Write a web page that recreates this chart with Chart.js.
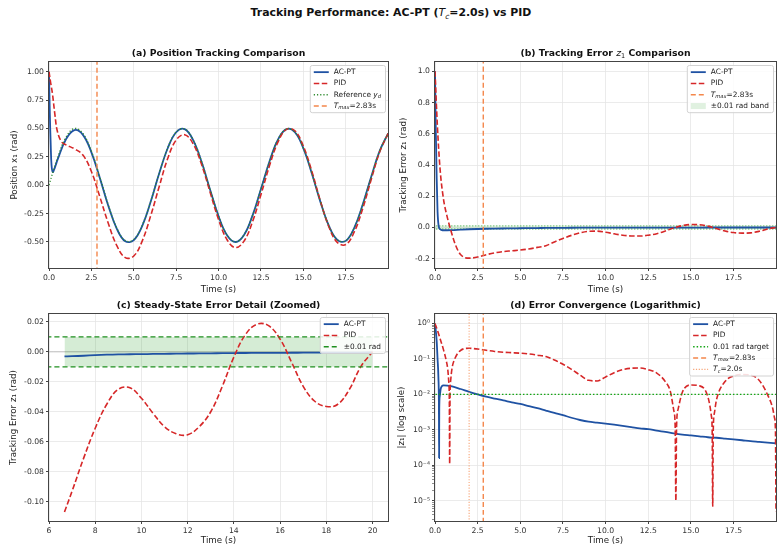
<!DOCTYPE html>
<html>
<head>
<meta charset="utf-8">
<script src="https://cdn.jsdelivr.net/npm/chart.js@4.4.1/dist/chart.umd.min.js"></script>
<style>
  body { margin: 0; background: #fff; width: 782px; height: 551px; position: relative; overflow: hidden; }
  canvas { position: absolute; }
  #sup { position: absolute; left: 0; top: 6px; width: 782px; text-align: center;
         font: bold 10.9px "DejaVu Sans"; color: #111; }
  #sup i { font-weight: normal; }
  #sup sub { font-size: 7.5px; font-weight: normal; font-style: italic; }
</style>
</head>
<body>
<div id="sup">Tracking Performance: AC-PT (<i>T</i><sub>c</sub>=2.0s) vs PID</div>
<canvas id="chartA" width="392" height="256" style="left:0;top:44px"></canvas>
<canvas id="chartB" width="390" height="256" style="left:392px;top:44px"></canvas>
<canvas id="chartC" width="392" height="255" style="left:0;top:296px"></canvas>
<canvas id="chartD" width="390" height="255" style="left:392px;top:296px"></canvas>
<script>
// ---- data ----
const tMax = 2.83;
const tC = 2.0;
const band = 0.01;

const tRef = [0, 0.5, 1, 1.5, 2, 2.5, 3, 3.5, 4, 4.5, 5, 5.5, 6, 6.5, 7, 7.5, 8, 8.5, 9, 9.5, 10,
  10.5, 11, 11.5, 12, 12.5, 13, 13.5, 14, 14.5, 15, 15.5, 16, 16.5, 17, 17.5, 18, 18.5, 19, 19.5, 20];
const yRef = [0.000, 0.240, 0.421, 0.499, 0.455, 0.299, 0.071, -0.175, -0.378, -0.489, -0.479,
  -0.353, -0.140, 0.108, 0.328, 0.469, 0.495, 0.399, 0.206, -0.038, -0.272, -0.440, -0.500,
  -0.438, -0.268, -0.033, 0.210, 0.402, 0.495, 0.467, 0.325, 0.104, -0.144, -0.356, -0.481,
  -0.490, -0.375, -0.171, 0.075, 0.303, 0.456];

const tAc = [0, 0.05, 0.1, 0.15, 0.22, 0.3, 0.4, 0.5, 1, 1.5, 2, 2.5, 3, 3.5, 4, 4.5, 5, 5.5, 6,
  6.5, 7, 7.5, 8, 8.5, 9, 9.5, 10, 10.5, 11, 11.5, 12, 12.5, 13, 13.5, 14, 14.5, 15, 15.5, 16,
  16.5, 17, 17.5, 18, 18.5, 19, 19.5, 20];
const x1Ac = [1.0, 0.625, 0.36, 0.175, 0.115, 0.137, 0.178, 0.222, 0.404, 0.485, 0.443, 0.289,
  0.062, -0.183, -0.385, -0.495, -0.484, -0.358, -0.144, 0.104, 0.325, 0.466, 0.493, 0.397, 0.204,
  -0.040, -0.274, -0.441, -0.501, -0.439, -0.269, -0.034, 0.209, 0.401, 0.494, 0.466, 0.324, 0.103,
  -0.145, -0.357, -0.482, -0.491, -0.376, -0.171, 0.074, 0.302, 0.456];
const z1Ac = [1.0, 0.6, 0.31, 0.1, 0.006, -0.011, -0.017, -0.018, -0.0168, -0.0142, -0.0118,
  -0.0100, -0.0086, -0.0076, -0.0068, -0.0060, -0.0054, -0.0047, -0.0041, -0.0035, -0.0030,
  -0.0026, -0.0022, -0.0019, -0.0017, -0.0016, -0.0015, -0.0014, -0.0013, -0.0012, -0.0011,
  -0.00105, -0.00095, -0.00088, -0.0008, -0.00074, -0.0007, -0.00066, -0.00062, -0.0006,
  -0.00057, -0.00054, -0.00051, -0.00048, -0.00046, -0.00044, -0.00042];

const tPidPos = [0, 0.1, 0.2, 0.35, 0.5, 0.75, 1, 1.5, 2, 2.5, 3, 3.5, 4, 4.5, 5, 5.5, 6, 6.5, 7,
  7.5, 8, 8.5, 9, 9.5, 10, 10.5, 11, 11.5, 12, 12.5, 13, 13.5, 14, 14.5, 15, 15.5, 16, 16.5, 17,
  17.5, 18, 18.5, 19, 19.5, 20];
const x1Pid = [1.0, 0.90, 0.81, 0.62, 0.47, 0.38, 0.355, 0.32, 0.265, 0.12, -0.104, -0.338,
  -0.533, -0.639, -0.624, -0.491, -0.268, -0.012, 0.235, 0.398, 0.444, 0.364, 0.181, -0.062,
  -0.303, -0.481, -0.550, -0.493, -0.323, -0.083, 0.170, 0.379, 0.492, 0.479, 0.343, 0.121,
  -0.138, -0.366, -0.504, -0.523, -0.412, -0.206, 0.050, 0.293, 0.456];

const tPid = [0, 0.14, 0.3, 0.5, 0.7, 0.88, 1.18, 1.47, 2, 2.5, 3, 3.5, 4, 4.5, 5, 5.5, 6, 6.5, 7,
  7.5, 8, 8.5, 9, 9.5, 10, 10.5, 11, 11.5, 12, 12.5, 13, 13.5, 14, 14.5, 15, 15.5, 16, 16.5, 17,
  17.5, 18, 18.5, 19, 19.5, 20];
const z1Pid = [1.0, 0.65, 0.37, 0.18, 0.074, 0.0, -0.106, -0.17, -0.197, -0.19, -0.175, -0.163,
  -0.155, -0.15, -0.145, -0.138, -0.128, -0.117, -0.093, -0.071, -0.051, -0.035, -0.025, -0.024,
  -0.031, -0.041, -0.05, -0.0547, -0.0554, -0.05, -0.04, -0.023, -0.0035, 0.0115, 0.0185, 0.0175,
  0.0085, -0.007, -0.023, -0.033, -0.0365, -0.035, -0.025, -0.0097, 0.0];

const tZoom = [6.67, 7, 7.5, 8, 8.5, 9, 9.5, 10, 10.5, 11, 11.5, 12, 12.5, 13, 13.5, 14, 14.5, 15,
  15.5, 16, 16.5, 17, 17.5, 18, 18.5, 19, 19.5, 20];
const z1AcZoom = [-0.0030, -0.0029, -0.0026, -0.0022, -0.0019, -0.0017, -0.0016, -0.0015, -0.0014,
  -0.0013, -0.0012, -0.0011, -0.00105, -0.00095, -0.00088, -0.0008, -0.00074, -0.0007, -0.00066,
  -0.00062, -0.0006, -0.00057, -0.00054, -0.00051, -0.00048, -0.00046, -0.00044, -0.00042];
const z1PidZoom = [-0.107, -0.093, -0.071, -0.051, -0.035, -0.025, -0.024, -0.031, -0.041, -0.05,
  -0.0547, -0.0554, -0.05, -0.04, -0.023, -0.0035, 0.0115, 0.0185, 0.0175, 0.0085, -0.007, -0.023,
  -0.033, -0.0365, -0.035, -0.025, -0.0097, 0.0];

const tLogAc = [0, 0.05, 0.1, 0.15, 0.2, 0.23, 0.24, 0.25, 0.28, 0.33, 0.4, 0.5, 1, 1.5, 2, 2.5,
  3, 3.5, 4, 4.5, 5, 5.5, 6, 6.5, 7, 7.5, 8, 8.5, 9, 9.5, 10, 10.5, 11, 11.5, 12, 12.5, 13, 13.5,
  14, 14.5, 15, 15.5, 16, 16.5, 17, 17.5, 18, 18.5, 19, 19.5, 20];
const absAc = [1.0, 0.6, 0.31, 0.1, 0.03, 0.004, 0.00016, 0.004, 0.009, 0.014, 0.017, 0.018,
  0.0168, 0.0142, 0.0118, 0.0100, 0.0086, 0.0076, 0.0068, 0.0060, 0.0054, 0.0047, 0.0041, 0.0035,
  0.0030, 0.0026, 0.0022, 0.0019, 0.0017, 0.0016, 0.0015, 0.0014, 0.0013, 0.0012, 0.0011, 0.00105,
  0.00095, 0.00088, 0.0008, 0.00074, 0.0007, 0.00066, 0.00062, 0.0006, 0.00057, 0.00054, 0.00051,
  0.00048, 0.00046, 0.00044, 0.00042];

const tLogPid = [0, 0.14, 0.3, 0.5, 0.67, 0.75, 0.8, 0.84, 0.86, 0.88, 0.92, 1.0, 1.18, 1.47, 2,
  2.5, 3, 3.5, 4, 4.5, 5, 5.5, 6, 6.5, 7, 7.5, 8, 8.5, 9, 9.5, 10, 10.5, 11, 11.5, 12, 12.5, 13,
  13.5, 13.8, 14, 14.08, 14.12, 14.16, 14.25, 14.5, 15, 15.5, 16, 16.2, 16.25, 16.28, 16.31, 16.38,
  16.5, 17, 17.5, 18, 18.5, 19, 19.5, 19.8, 19.9, 19.96, 19.99];
const absPid = [1.0, 0.65, 0.37, 0.18, 0.085, 0.05, 0.025, 0.007, 0.00011, 0.008, 0.025, 0.055,
  0.106, 0.17, 0.2, 0.19, 0.175, 0.163, 0.155, 0.15, 0.145, 0.138, 0.128, 0.117, 0.093, 0.071,
  0.051, 0.035, 0.025, 0.024, 0.031, 0.041, 0.05, 0.0547, 0.0554, 0.05, 0.04, 0.023, 0.012, 0.0035,
  0.0012, 0.00001, 0.0012, 0.0038, 0.0115, 0.0185, 0.0175, 0.0085, 0.0025, 0.0009, 0.000007,
  0.0009, 0.003, 0.007, 0.023, 0.033, 0.0365, 0.035, 0.025, 0.0097, 0.004, 0.0022, 0.0009, 0.000005];

const xTicksTime = [0, 2.5, 5, 7.5, 10, 12.5, 15, 17.5];
const xTicksZoom = [6, 8, 10, 12, 14, 16, 18, 20];
const yTicksPos = [-0.5, -0.25, 0, 0.25, 0.5, 0.75, 1.0];
const yTicksErr = [-0.2, 0, 0.2, 0.4, 0.6, 0.8, 1.0];
const yTicksZoom = [-0.10, -0.08, -0.06, -0.04, -0.02, 0, 0.02];
const logDecades = [1e-5, 1e-4, 1e-3, 1e-2, 1e-1, 1];

// ---- styles ----
Chart.defaults.font.family = '"DejaVu Sans", sans-serif';
const BLUE = '#1f52a3';
const RED = '#d62728';
const ORANGE = '#f4874b';
const GRID = '#e6e6e6';
const FONT = '"DejaVu Sans"';

const pts = (xs, ys) => xs.map((x, i) => ({ x: x, y: ys[i] }));

function richFont(st, size, bold) {
  const sub = st.includes('s');
  const it = st.includes('i');
  return (it ? 'italic ' : '') + (bold && !it && !sub ? 'bold ' : '') + (sub ? size * 0.7 : size) + 'px ' + FONT;
}
function richWidth(ctx, parts, size, bold) {
  let w = 0;
  parts.forEach(([t, st]) => { ctx.font = richFont(st, size, bold); w += ctx.measureText(t).width; });
  return w;
}
function drawRich(ctx, parts, x, y, size, bold, align) {
  const w = richWidth(ctx, parts, size, bold);
  let cx = align === 'center' ? x - w / 2 : x;
  ctx.textBaseline = 'middle';
  ctx.textAlign = 'left';
  parts.forEach(([t, st]) => {
    ctx.font = richFont(st, size, bold);
    ctx.fillText(t, cx, st.includes('s') ? y + size * 0.28 : y);
    cx += ctx.measureText(t).width;
  });
}

// spines, panel title and a matplotlib-like legend box
const panelDeco = {
  id: 'panelDeco',
  afterDraw(chart, args, o) {
    const ctx = chart.ctx, a = chart.chartArea;
    ctx.save();
    ctx.strokeStyle = '#444';
    ctx.lineWidth = 1;
    ctx.strokeRect(a.left - 0.5, a.top - 0.5, a.right - a.left + 1, a.bottom - a.top + 1);
    ctx.fillStyle = '#111';
    drawRich(ctx, o.title, (a.left + a.right) / 2, a.top - 8.5, 9.3, true, 'center');

    const items = chart.data.datasets.filter(d => d.label);
    const fs = 7.4, row = 11.3, padX = 4, sw = 15, gap = 5;
    const tw = Math.max(...items.map(d => richWidth(ctx, d.rich || [[d.label, '']], fs, false)));
    const w = padX + sw + gap + tw + 4;
    const h = items.length * row + 2;
    const x = a.right - 3 - w, y = a.top + 3;
    ctx.beginPath();
    ctx.roundRect(x + 0.5, y + 0.5, w, h, 2);
    ctx.fillStyle = 'rgba(255,255,255,0.85)';
    ctx.fill();
    ctx.strokeStyle = '#d2d2d2';
    ctx.stroke();
    items.forEach((d, i) => {
      const cy = y + 1.5 + row * (i + 0.5);
      if (d.legendPatch) {
        ctx.fillStyle = d.backgroundColor;
        ctx.fillRect(x + padX, cy - 3, sw, 6);
      } else {
        ctx.setLineDash(d.borderDash || []);
        ctx.strokeStyle = d.borderColor;
        ctx.lineWidth = d.borderWidth;
        ctx.beginPath();
        ctx.moveTo(x + padX, cy);
        ctx.lineTo(x + padX + sw, cy);
        ctx.stroke();
        ctx.setLineDash([]);
      }
      ctx.fillStyle = '#222';
      drawRich(ctx, d.rich || [[d.label, '']], x + padX + sw + gap, cy, fs, false, 'left');
    });
    ctx.restore();
  }
};

const supDigits = { '-': '\u207B', '0': '\u2070', '1': '\u00B9', '2': '\u00B2', '3': '\u00B3', '4': '\u2074', '5': '\u2075' };

function axes(o) {
  const tickFont = { size: 7.7 };
  const y = {
    type: o.log ? 'logarithmic' : 'linear',
    min: o.yMin, max: o.yMax,
    afterFit: s => { s.width = o.yW; },
    afterBuildTicks: s => {
      if (o.log) {
        const list = [];
        logDecades.forEach(dv => {
          for (let k = 1; k <= 9; k++) {
            const v = dv * k;
            if (v >= o.yMin && v <= o.yMax) list.push({ value: v, major: k === 1 });
          }
        });
        list.unshift({ value: 9e-6, major: false }, { value: 8e-6, major: false }, { value: 7e-6, major: false },
          { value: 6e-6, major: false }, { value: 5e-6, major: false }, { value: 4e-6, major: false }, { value: 3e-6, major: false });
        s.ticks = list.filter(t => t.value >= o.yMin && t.value <= o.yMax);
      } else {
        s.ticks = o.yTicks.map(v => ({ value: v }));
      }
    },
    ticks: {
      autoSkip: false, padding: 2, color: '#333', font: tickFont,
      callback: o.log
        ? (v => {
            const e = Math.round(Math.log10(v));
            if (Math.abs(Math.log10(v) - e) > 1e-6) return '';
            return '10' + String(e).split('').map(c => supDigits[c]).join('');
          })
        : (v => v.toFixed(o.yDec))
    },
    grid: {
      color: c => (!o.log || (c.tick && c.tick.major)) ? GRID : 'rgba(0,0,0,0)',
      lineWidth: 0.8, tickLength: 3, tickColor: '#444',
      tickWidth: c => (!o.log || (c.tick && c.tick.major)) ? 1 : 0.6
    },
    border: { display: false },
    title: { display: true, text: o.yTitle, color: '#222', font: { size: 8.7 }, padding: { top: o.yTitlePad, bottom: 0 } }
  };
  const x = {
    type: 'linear', min: o.xMin, max: o.xMax,
    afterFit: s => { s.height = o.xH; },
    afterBuildTicks: s => { s.ticks = o.xTicks.map(v => ({ value: v })); },
    ticks: { autoSkip: false, maxRotation: 0, padding: 2, color: '#333', font: tickFont, callback: v => v.toFixed(o.xDec) },
    grid: { color: GRID, lineWidth: 0.8, tickLength: 3, tickColor: '#444', tickWidth: 1 },
    border: { display: false },
    title: { display: true, text: 'Time (s)', color: '#222', font: { size: 8.7 }, padding: { top: 0, bottom: 5 } }
  };
  return { x: x, y: y };
}

function makeChart(id, datasets, o) {
  datasets.forEach((d, i) => {
    d.pointRadius = 0;
    if (d.fill === undefined) d.fill = false;
    if (d.order === undefined) d.order = -i;
  });
  return new Chart(document.getElementById(id), {
    type: 'line',
    data: { datasets: datasets },
    options: {
      responsive: false, animation: false, maintainAspectRatio: false,
      layout: { padding: { top: 18, right: o.padR, left: 0, bottom: 0 } },
      elements: { line: { tension: o.tension, cubicInterpolationMode: o.mode || 'default' } },
      plugins: { legend: { display: false }, tooltip: { enabled: false }, panelDeco: { title: o.title } },
      scales: axes(o)
    },
    plugins: [panelDeco]
  });
}

const tMaxRich = [['T', 'i'], ['max', 'is'], ['=' + tMax + 's', '']];

// (a) position tracking
makeChart('chartA', [
  { label: 'AC-PT', data: pts(tAc, x1Ac), borderColor: BLUE, borderWidth: 1.8 },
  { label: 'PID', data: pts(tPidPos, x1Pid), borderColor: RED, borderWidth: 1.6, borderDash: [5.5, 2.5] },
  { label: 'Reference', rich: [['Reference ', ''], ['y', 'i'], ['d', 'is']], data: pts(tRef, yRef),
    borderColor: '#2e8b2e', borderWidth: 1.3, borderDash: [1.2, 2] },
  { label: 'Tmax', rich: tMaxRich, data: [{ x: tMax, y: -5 }, { x: tMax, y: 5 }],
    borderColor: ORANGE, borderWidth: 1.4, borderDash: [5, 3] }
], {
  title: [['(a) Position Tracking Comparison', '']], padR: 4, tension: 0.4,
  xMin: 0, xMax: 19.99, xTicks: xTicksTime, xDec: 1, xH: 32,
  yMin: -0.73, yMax: 1.085, yTicks: yTicksPos, yDec: 2, yW: 49, yTitle: 'Position x\u2081 (rad)', yTitlePad: 10
});

// (b) tracking error
makeChart('chartB', [
  { label: 'AC-PT', data: pts(tAc, z1Ac), borderColor: BLUE, borderWidth: 1.8 },
  { label: 'PID', data: pts(tPid, z1Pid), borderColor: RED, borderWidth: 1.6, borderDash: [5.5, 2.5] },
  { label: 'Tmax', rich: tMaxRich, data: [{ x: tMax, y: -5 }, { x: tMax, y: 5 }],
    borderColor: ORANGE, borderWidth: 1.4, borderDash: [5, 3] },
  { label: '\u00B10.01 rad band', legendPatch: true, data: [{ x: -1, y: band }, { x: 30, y: band }],
    borderColor: 'rgba(44,160,44,0.55)', borderWidth: 1.3, borderDash: [1.5, 1.5],
    backgroundColor: 'rgba(44,160,44,0.15)', fill: '+1', order: 10 },
  { data: [{ x: -1, y: -band }, { x: 30, y: -band }], borderColor: 'rgba(44,160,44,0.55)',
    borderWidth: 1.3, borderDash: [1.5, 1.5], order: 9 }
], {
  title: [['(b) Tracking Error ', ''], ['z', 'i'], ['1', 's'], [' Comparison', '']], padR: 6, tension: 0, mode: 'monotone',
  xMin: 0, xMax: 19.99, xTicks: xTicksTime, xDec: 1, xH: 32,
  yMin: -0.26, yMax: 1.06, yTicks: yTicksErr, yDec: 1, yW: 43, yTitle: 'Tracking Error z\u2081 (rad)', yTitlePad: 7
});

// (c) steady-state zoom
makeChart('chartC', [
  { label: 'AC-PT', data: pts(tZoom, z1AcZoom), borderColor: BLUE, borderWidth: 1.8 },
  { label: 'PID', data: pts(tZoom, z1PidZoom), borderColor: RED, borderWidth: 1.6, borderDash: [5.5, 2.5] },
  { label: '\u00B10.01 rad', data: [{ x: 0, y: band }, { x: 30, y: band }], borderColor: '#1f8f1f',
    borderWidth: 1.4, borderDash: [5, 3] },
  { data: [{ x: 0, y: -band }, { x: 30, y: -band }], borderColor: '#1f8f1f', borderWidth: 1.4, borderDash: [5, 3] },
  { data: [{ x: tZoom[0], y: band }, { x: tZoom[tZoom.length - 1], y: band }], borderWidth: 0,
    borderColor: 'rgba(0,0,0,0)', backgroundColor: 'rgba(44,160,44,0.2)', fill: '+1', order: 20 },
  { data: [{ x: tZoom[0], y: -band }, { x: tZoom[tZoom.length - 1], y: -band }], borderWidth: 0,
    borderColor: 'rgba(0,0,0,0)', order: 19 },
  { data: [{ x: 0, y: 0 }, { x: 30, y: 0 }], borderColor: 'rgba(0,0,0,0.3)', borderWidth: 0.7, order: 18 }
], {
  title: [['(c) Steady-State Error Detail (Zoomed)', '']], padR: 4, tension: 0.4,
  xMin: 6, xMax: 20.67, xTicks: xTicksZoom, xDec: 0, xH: 30,
  yMin: -0.113, yMax: 0.0253, yTicks: yTicksZoom, yDec: 2, yW: 49, yTitle: 'Tracking Error z\u2081 (rad)', yTitlePad: 9
});

// (d) log convergence
makeChart('chartD', [
  { label: 'AC-PT', data: pts(tLogAc, absAc), borderColor: BLUE, borderWidth: 1.8 },
  { label: 'PID', data: pts(tLogPid, absPid), borderColor: RED, borderWidth: 1.6, borderDash: [5.5, 2.5] },
  { label: '0.01 rad target', data: [{ x: -1, y: band }, { x: 30, y: band }], borderColor: '#14a514',
    borderWidth: 1.4, borderDash: [1.5, 2] },
  { label: 'Tmax', rich: tMaxRich, data: [{ x: tMax, y: 1e-9 }, { x: tMax, y: 100 }],
    borderColor: ORANGE, borderWidth: 1.4, borderDash: [5, 3] },
  { label: 'Tc', rich: [['T', 'i'], ['c', 'is'], ['=' + tC.toFixed(1) + 's', '']],
    data: [{ x: tC, y: 1e-9 }, { x: tC, y: 100 }], borderColor: 'rgba(244,135,75,0.75)',
    borderWidth: 1.1, borderDash: [1.2, 1.6] }
], {
  title: [['(d) Error Convergence (Logarithmic)', '']], padR: 6, tension: 0, mode: 'monotone', log: true,
  xMin: 0, xMax: 19.99, xTicks: xTicksTime, xDec: 1, xH: 30,
  yMin: 2.7e-6, yMax: 1.85, yW: 43, yTitle: '|z\u2081| (log scale)', yTitlePad: 5
});
</script>
</body>
</html>
